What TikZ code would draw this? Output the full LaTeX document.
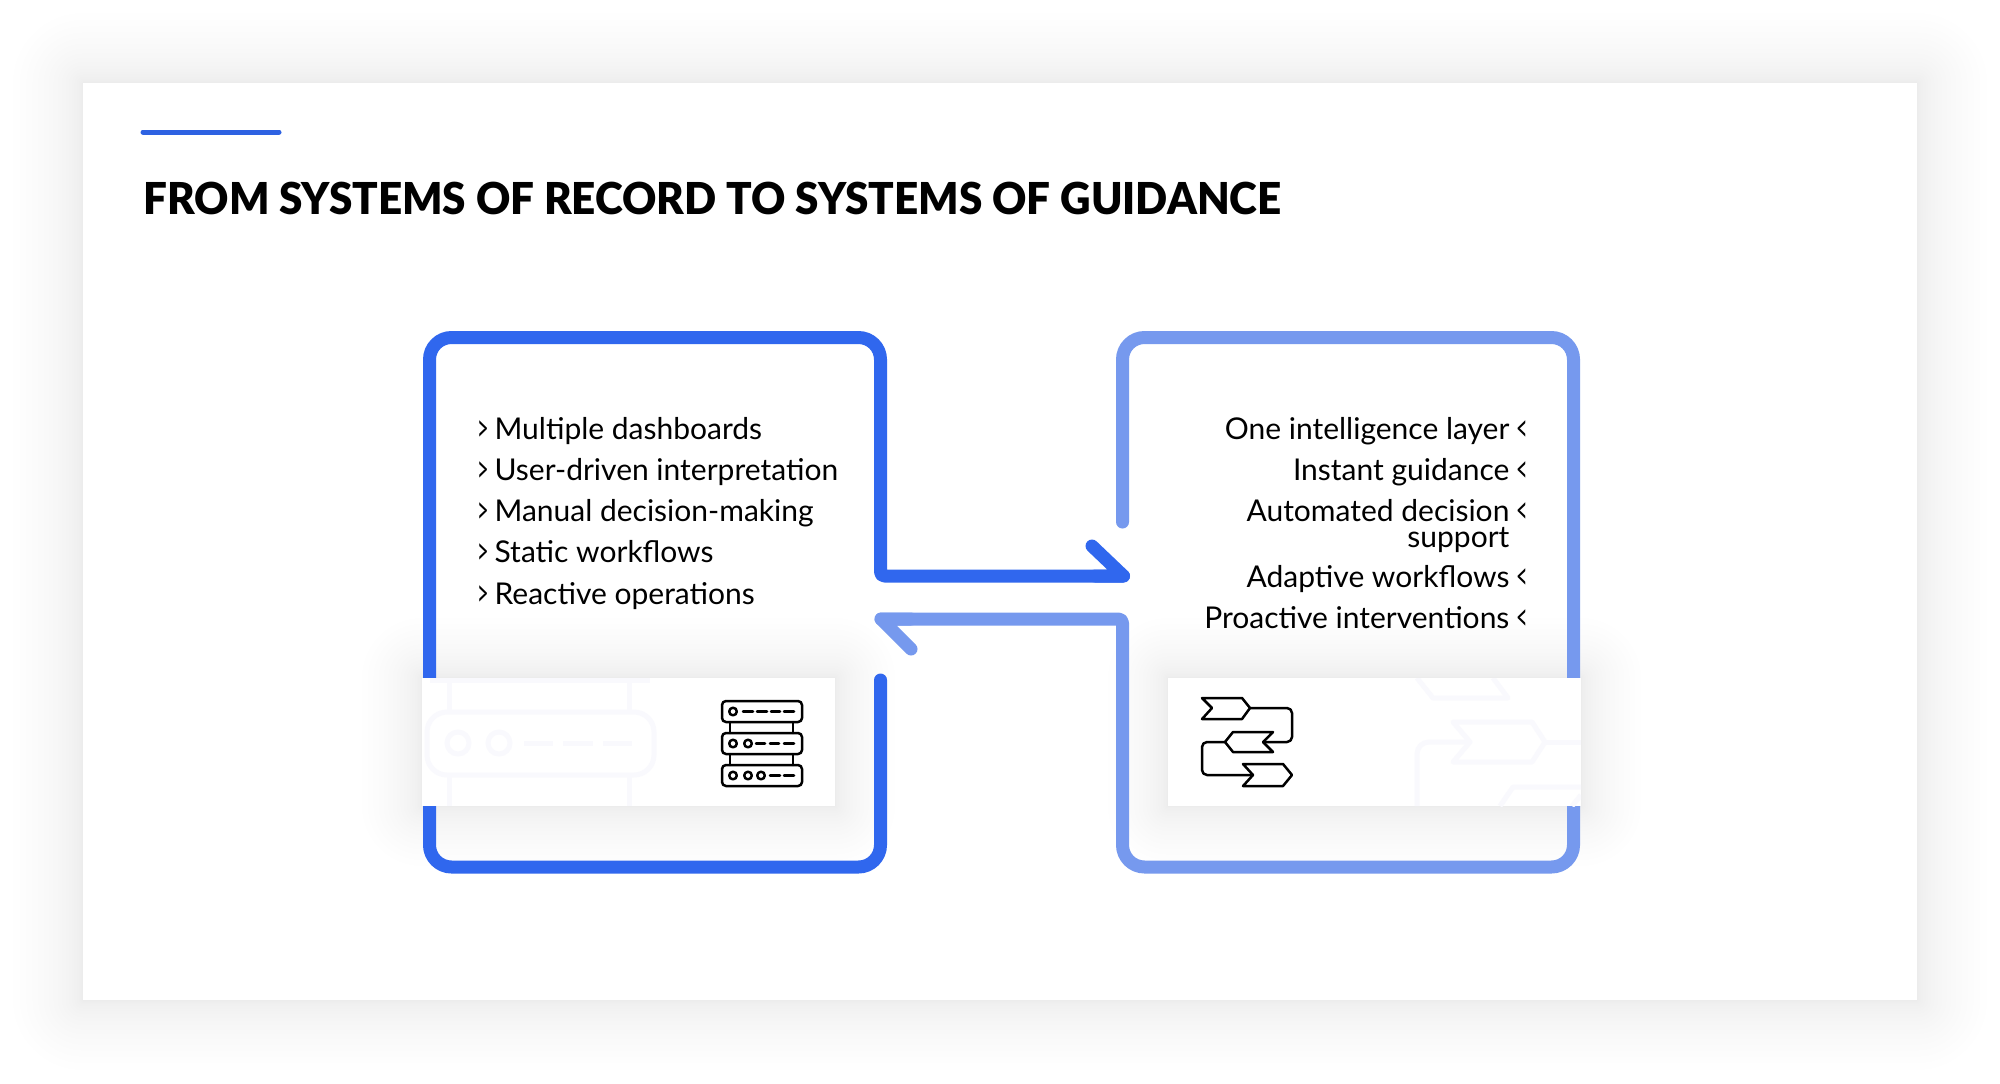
\documentclass[tikz,border=0pt]{standalone}
\usepackage{fontspec}
\setmainfont{Lato}
\newfontfamily\headfont[FakeStretch=0.96]{Lato Black}
\usepackage{tikz}
\usetikzlibrary{
  positioning,
}
\definecolor{recordblue}{RGB}{48,103,238}
\definecolor{guideblue}{RGB}{118,153,238}
\definecolor{faintmark}{RGB}{249,249,253}
\tikzset{
  flowline/.style={line width=6.5pt, line cap=round, line join=round, rounded corners=11pt},
  arrowhead/.style={line width=6.5pt, line cap=round, line join=round},
  iconline/.style={line width=1.25pt, black, line join=round, line cap=round},
  markline/.style={line width=2.5pt, faintmark, line join=round},
  item/.style={font=\fontsize{15}{16}\selectfont, inner sep=0pt, text=black},
  panel/.style={fill=white, draw=none},
}
\newcommand{\softshadow}[5]{%
  \foreach \s in {20,19,...,1} {
    \pgfmathsetmacro{\r}{#5*(\s/20)^2}
    \fill [black, opacity=.0048, rounded corners=\r*0.5pt]
      (#1-\r,#2-\r) rectangle (#3+\r,#4+\r);
  }
}
\newcommand{\nextmark}{\makebox[8.6pt][l]{\raisebox{-1pt}{\scalebox{.66}[1.25]{>}}}}
\newcommand{\backmark}{\makebox[9.4pt][r]{\raisebox{-1pt}{\scalebox{.66}[1.25]{<}}}}

\begin{document}
\begin{tikzpicture}[x=0.5pt, y=-0.5pt]
  \useasboundingbox (0,0) rectangle (2000,1083);
  \fill [white] (0,0) rectangle (2000,1083);

  % card
  \softshadow{83}{83}{1917}{1000}{70}
  \fill [white] (83,83) rectangle (1917,1000);
  \draw [line width=2.5pt, recordblue!95!black, line cap=round] (143,132) -- (279,132);
  \node [anchor=base west, inner sep=0pt, font=\headfont\fontsize{22}{24}\selectfont] (title) at (143,214)
    {FROM SYSTEMS OF RECORD TO SYSTEMS OF GUIDANCE};

  % panel shadows
  \softshadow{422}{678}{835}{806}{60}
  \softshadow{1168}{678}{1581}{806}{60}

  % boxes with their arrows
  \coordinate (recordstart) at (880.5,680);
  \coordinate (recordtip) at (1123.5,576);
  \coordinate (guidestart) at (1122.5,522);
  \coordinate (guidetip) at (881,619);
  \draw [flowline, recordblue] (recordstart) -- (880.5,867) -- (429.5,867) -- (429.5,337.5)
    -- (880.5,337.5) [rounded corners=2pt] -- (880.5,576) -- (recordtip);
  \draw [arrowhead, recordblue] (1092,546) -- (recordtip) -- (1095,576);
  \draw [flowline, guideblue] (guidestart) -- (1122.5,337.5) -- (1573.5,337.5) -- (1573.5,867)
    -- (1122.5,867) [rounded corners=2pt] -- (1122.5,619) -- (guidetip);
  \draw [arrowhead, guideblue] (911,649) -- (guidetip) -- (911,619);

  % white panels with the faint marks
  \fill [panel] (422,678) rectangle (835,806);
  \fill [panel] (1168,678) rectangle (1581,806);
  \begin{scope}
    \clip (422,678) rectangle (835,806);
    \draw [markline, rounded corners=10pt] (427,712) rectangle (654,775);
    \draw [markline] (449,680) -- (449,712) (629,680) -- (629,712) (449,775) -- (449,806) (629,775) -- (629,806);
    \draw [markline] (430,680) -- (650,680);
    \draw [markline] (458,743) circle [radius=11];
    \draw [markline] (499,743) circle [radius=11];
    \draw [markline] (524,743) -- (553,743) (563,743) -- (593,743) (603,743) -- (632,743);
  \end{scope}
  \begin{scope}
    \clip (1168,678) rectangle (1581,806);
    \draw [markline] (1417,678) -- (1433,698) -- (1508,698) -- (1493,678);
    \draw [markline] (1453,722) -- (1532,722) -- (1545,742) -- (1532,762) -- (1453,762) -- (1470,742) -- cycle;
    \draw [markline] (1545,742) -- (1581,742);
    \draw [markline, rounded corners=6pt] (1470,742) -- (1417,742) -- (1417,806);
    \draw [markline] (1500,806) -- (1513,787) -- (1581,787);
    \draw [markline] (1572,806) -- (1581,795);
  \end{scope}

  % server icon
  \foreach \y in {701,733,765}
    \draw [iconline, rounded corners=2pt] (722,\y) rectangle (802,\y+21);
  \draw [iconline] (730,722) -- (730,733) (793,722) -- (793,733) (730,754) -- (730,765) (793,754) -- (793,765);
  \foreach \x/\y in {733/711.5, 733/743.5, 748/743.5, 733/775.5, 748/775.5, 761/775.5}
    \draw [iconline] (\x,\y) circle [radius=3.8];
  \draw [iconline] (743,711.5) -- (753,711.5) (757,711.5) -- (767,711.5) (771,711.5) -- (780,711.5) (784,711.5) -- (794,711.5);
  \draw [iconline] (756,743.5) -- (765,743.5) (770,743.5) -- (779,743.5) (784,743.5) -- (794,743.5);
  \draw [iconline] (770,775.5) -- (780,775.5) (784,775.5) -- (794,775.5);

  % flow icon
  \draw [iconline] (1202,698) -- (1242,698) -- (1250,708) -- (1242,719) -- (1202,719) -- (1212,708) -- cycle;
  \draw [iconline] (1225,742) -- (1233,732) -- (1273,732) -- (1263,742) -- (1273,752) -- (1233,752) -- cycle;
  \draw [iconline] (1243,764) -- (1283,764) -- (1292,775) -- (1283,786) -- (1243,786) -- (1253,775) -- cycle;
  \draw [iconline, rounded corners=2.5pt] (1250,708) -- (1292,708) -- (1292,742) -- (1263,742);
  \draw [iconline, rounded corners=2.5pt] (1225,742) -- (1202,742) -- (1202,775) -- (1253,775);

  % left list
  \node [item, anchor=base west] (multiple) at (477,439) {\nextmark Multiple dashboards};
  \node [item, below=20.65pt of multiple.base west, anchor=base west] (user) {\nextmark User-driven interpretation};
  \node [item, below=20.65pt of user.base west, anchor=base west] (manual) {\nextmark Manual decision-making};
  \node [item, below=20.65pt of manual.base west, anchor=base west] (static) {\nextmark Static workflows};
  \node [item, below=20.65pt of static.base west, anchor=base west] (reactive) {\nextmark Reactive operations};

  % right list
  \node [item, anchor=base east] (layer) at (1528.6,439) {One intelligence layer\backmark};
  \node [item, below=20.65pt of layer.base east, anchor=base east] (instant) {Instant guidance\backmark};
  \node [item, below=20.65pt of instant.base east, anchor=base east] (automated) {Automated decision\backmark};
  \node [item, below=13pt of automated.base east, anchor=base east] (support) {support\makebox[9.4pt][r]{}};
  \node [item, below=20pt of support.base east, anchor=base east] (adaptive) {Adaptive workflows\backmark};
  \node [item, below=20.65pt of adaptive.base east, anchor=base east] (proactive) {Proactive interventions\backmark};
\end{tikzpicture}
\end{document}
